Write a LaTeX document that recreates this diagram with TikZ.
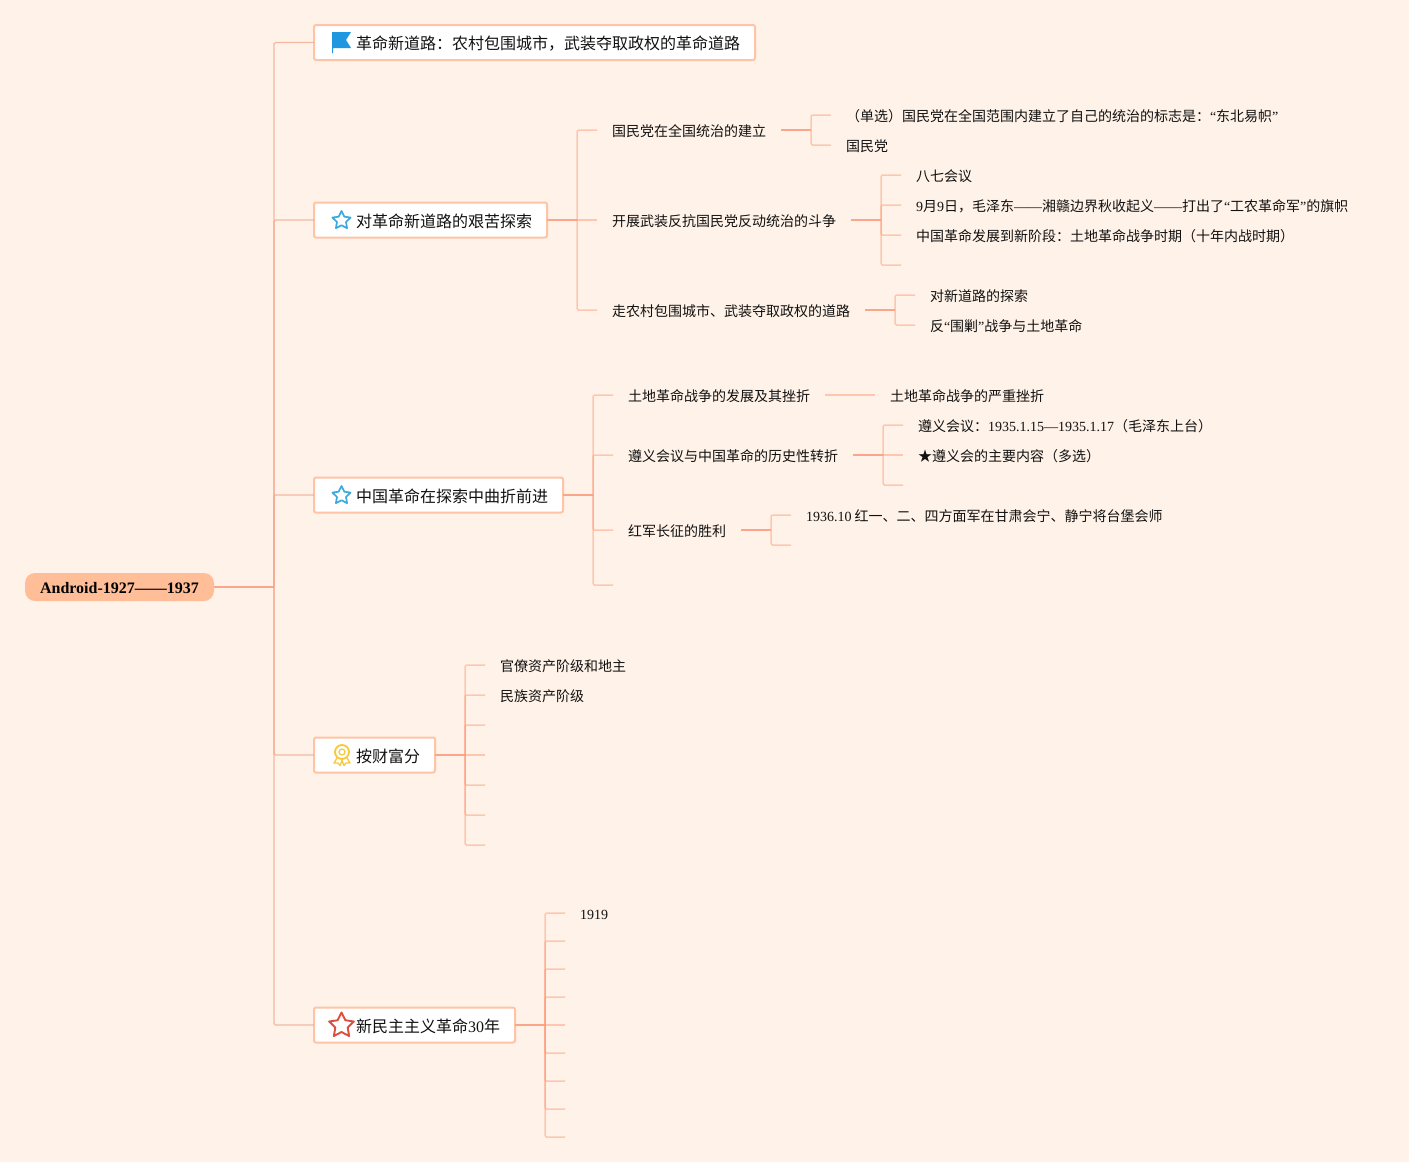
\documentclass[tikz,border=0pt]{standalone}
\usepackage{fontspec}
\setmainfont{Liberation Serif}
\newfontfamily\cjk{Noto Sans CJK SC}
\newcommand{\lat}[1]{{\rmfamily #1}}
\usetikzlibrary{shapes.geometric}
\definecolor{bgc}{HTML}{FFF2E8}
\definecolor{linkc}{HTML}{FF9B78}
\definecolor{stemc}{HTML}{F9A68B}
\definecolor{trunkc}{HTML}{F2A58A}
\definecolor{boxc}{HTML}{FFC4A6}
\definecolor{rootc}{HTML}{FFBE98}
\definecolor{txtc}{HTML}{111111}
\definecolor{flagc}{HTML}{1E96E0}
\definecolor{starc}{HTML}{3BA8E0}
\definecolor{redstarc}{HTML}{DE4E3E}
\definecolor{medalc}{HTML}{F5C93A}
\tikzset{
  link/.style={draw=linkc, draw opacity=0.5, line width=1.5pt, rounded corners=1.5pt},
  stem/.style={draw=stemc, line width=1.8pt},
  trunk/.style={draw=trunkc, draw opacity=0.75, line width=1.4pt, rounded corners=1.5pt},
  rootnode/.style={fill=rootc, rounded corners=10pt, minimum width=189pt, minimum height=28pt, inner sep=0pt, outer sep=0pt,
    text=black, font=\rmfamily\bfseries\fontsize{16}{18}\selectfont, text height=12.5pt, text depth=0pt},
  topic/.style={draw=boxc, fill=white, line width=2pt, rounded corners=2pt, anchor=west, minimum height=35pt, inner ysep=0pt, inner xsep=15pt, outer sep=0pt,
    font=\cjk\fontsize{16}{18}\selectfont, text height=14pt, text depth=0pt, execute at begin node={\hspace*{27pt}}},
  leaf/.style={anchor=west, inner xsep=15pt, inner ysep=0pt, outer sep=0pt, text height=13.4pt, text depth=0pt},
  staricon/.style={star, star points=5, star point ratio=2, inner sep=0pt, outer sep=0pt, line width=1.7pt, line join=round}
}
\begin{document}
\begin{tikzpicture}[x=1pt, y=-1pt, every node/.style={text=txtc, font=\cjk\fontsize{14}{16}\selectfont}]
  \useasboundingbox (0,0) rectangle (1409,1162);
  \fill[bgc] (0,0) rectangle (1409,1162);

  \node[rootnode] (root) at (119.5,587) {Android-1927——1937};

  \node[topic] (t1) at (314,42.5) {革命新道路：农村包围城市，武装夺取政权的革命道路};
  \node[topic] (t2) at (314,220) {对革命新道路的艰苦探索};
  \node[topic] (t3) at (314,495) {中国革命在探索中曲折前进};
  \node[topic] (t4) at (314,755) {按财富分};
  \node[topic] (t5) at (314,1025) {新民主主义革命\lat{30}年};

  \node[leaf] (s1) at (597,130) {国民党在全国统治的建立};
  \node[leaf] (s2) at (597,220) {开展武装反抗国民党反动统治的斗争};
  \node[leaf] (s3) at (597,310) {走农村包围城市、武装夺取政权的道路};

  \node[leaf] (a1) at (831,115) {（单选）国民党在全国范围内建立了自己的统治的标志是：\lat{“}东北易帜\lat{”}};
  \node[leaf] (a2) at (831,145) {国民党};
  \node[leaf] (b1) at (901,175) {八七会议};
  \node[leaf] (b2) at (901,205) {\lat{9}月\lat{9}日，毛泽东\lat{——}湘赣边界秋收起义\lat{——}打出了\lat{“}工农革命军\lat{”}的旗帜};
  \node[leaf] (b3) at (901,235) {中国革命发展到新阶段：土地革命战争时期（十年内战时期）};
  \coordinate (b4) at (901,265);
  \node[leaf] (c1) at (915,295) {对新道路的探索};
  \node[leaf] (c2) at (915,325) {反\lat{“}围剿\lat{”}战争与土地革命};

  \node[leaf] (s4) at (613,395) {土地革命战争的发展及其挫折};
  \node[leaf] (s5) at (613,455) {遵义会议与中国革命的历史性转折};
  \node[leaf] (s6) at (613,530) {红军长征的胜利};
  \coordinate (s7) at (613,585);

  \node[leaf] (d1) at (875,395) {土地革命战争的严重挫折};
  \node[leaf] (e1) at (903,425) {遵义会议：\lat{1935.1.15—1935.1.17}（毛泽东上台）};
  \node[leaf] (e2) at (903,455) {★遵义会的主要内容（多选）};
  \coordinate (e3) at (903,485);
  \node[leaf] (f1) at (791,515) {\lat{1936.10} 红一、二、四方面军在甘肃会宁、静宁将台堡会师};
  \coordinate (f2) at (791,545);

  \node[leaf] (g1) at (485,665) {官僚资产阶级和地主};
  \node[leaf] (g2) at (485,695) {民族资产阶级};
  \coordinate (g3) at (485,725);
  \coordinate (g4) at (485,755);
  \coordinate (g5) at (485,785);
  \coordinate (g6) at (485,815);
  \coordinate (g7) at (485,845);

  \node[leaf] (h1) at (565,913) {\lat{1919}};
  \coordinate (h2) at (565,941);
  \coordinate (h3) at (565,969);
  \coordinate (h4) at (565,997);
  \coordinate (h5) at (565,1025);
  \coordinate (h6) at (565,1053);
  \coordinate (h7) at (565,1081);
  \coordinate (h8) at (565,1109);
  \coordinate (h9) at (565,1137);

  \coordinate (rfork) at (274,587);
  \coordinate (t2fork) at (577,220);
  \coordinate (t3fork) at (593,495);
  \coordinate (t4fork) at (465,755);
  \coordinate (t5fork) at (545,1025);
  \coordinate (s1fork) at (811,130);
  \coordinate (s2fork) at (881,220);
  \coordinate (s3fork) at (895,310);
  \coordinate (s5fork) at (883,455);
  \coordinate (s6fork) at (771,530);

  \draw[draw=stemc, line width=1.2pt] (root.east) -- (rfork);
  \draw[trunk] (rfork) |- (t1.west);
  \draw[trunk] (rfork) |- (t2.west);
  \draw[trunk] (rfork) |- (t3.west);
  \draw[trunk] (rfork) |- (t4.west);
  \draw[trunk] (rfork) |- (t5.west);

  \draw[stem] (t2.east) -- (t2fork);
  \draw[link] (t2fork) |- (s1.west);
  \draw[link] (t2fork) -- (s2.west);
  \draw[link] (t2fork) |- (s3.west);

  \draw[stem] (s1.east) -- (s1fork);
  \draw[link] (s1fork) |- (a1.west);
  \draw[link] (s1fork) |- (a2.west);
  \draw[stem] (s2.east) -- (s2fork);
  \draw[link] (s2fork) |- (b1.west);
  \draw[link] (s2fork) |- (b2.west);
  \draw[link] (s2fork) |- (b3.west);
  \draw[link] (s2fork) |- (b4);
  \draw[stem] (s3.east) -- (s3fork);
  \draw[link] (s3fork) |- (c1.west);
  \draw[link] (s3fork) |- (c2.west);

  \draw[stem] (t3.east) -- (t3fork);
  \draw[link] (t3fork) |- (s4.west);
  \draw[link] (t3fork) |- (s5.west);
  \draw[link] (t3fork) |- (s6.west);
  \draw[link] (t3fork) |- (s7);

  \draw[link] (s4.east) -- (d1.west);
  \draw[stem] (s5.east) -- (s5fork);
  \draw[link] (s5fork) |- (e1.west);
  \draw[link] (s5fork) -- (e2.west);
  \draw[link] (s5fork) |- (e3);
  \draw[stem] (s6.east) -- (s6fork);
  \draw[link] (s6fork) |- (f1.west);
  \draw[link] (s6fork) |- (f2);

  \draw[stem] (t4.east) -- (t4fork);
  \draw[link] (t4fork) |- (g1.west);
  \draw[link] (t4fork) |- (g2.west);
  \draw[link] (t4fork) |- (g3);
  \draw[link] (t4fork) -- (g4);
  \draw[link] (t4fork) |- (g5);
  \draw[link] (t4fork) |- (g6);
  \draw[link] (t4fork) |- (g7);

  \draw[stem] (t5.east) -- (t5fork);
  \draw[link] (t5fork) |- (h1.west);
  \draw[link] (t5fork) |- (h2);
  \draw[link] (t5fork) |- (h3);
  \draw[link] (t5fork) |- (h4);
  \draw[link] (t5fork) -- (h5);
  \draw[link] (t5fork) |- (h6);
  \draw[link] (t5fork) |- (h7);
  \draw[link] (t5fork) |- (h8);
  \draw[link] (t5fork) |- (h9);

  \fill[flagc] (332,32) -- (351,32) -- (346,40) -- (351,48) -- (333.2,48) -- (333.2,53) -- (332,53) -- cycle;
  \node[staricon, draw=starc, minimum size=19pt] (i2) at (341.5,220.5) {};
  \node[staricon, draw=starc, minimum size=19pt] (i3) at (341.5,495.5) {};
  \draw[draw=medalc, line width=1.8pt] (342,752) circle (7);
  \draw[draw=medalc, line width=1.2pt] (342,752) circle (3);
  \draw[draw=medalc, line width=1.3pt, line join=round] (337,758) -- (334,763) -- (338,763) -- (340,765.5) -- (342,760.5) -- (344,765.5) -- (346,763) -- (350,763) -- (347,758);
  \node[staricon, draw=redstarc, line width=1.9pt, minimum size=26pt] (i5) at (341.5,1025.5) {};
\end{tikzpicture}
\end{document}
